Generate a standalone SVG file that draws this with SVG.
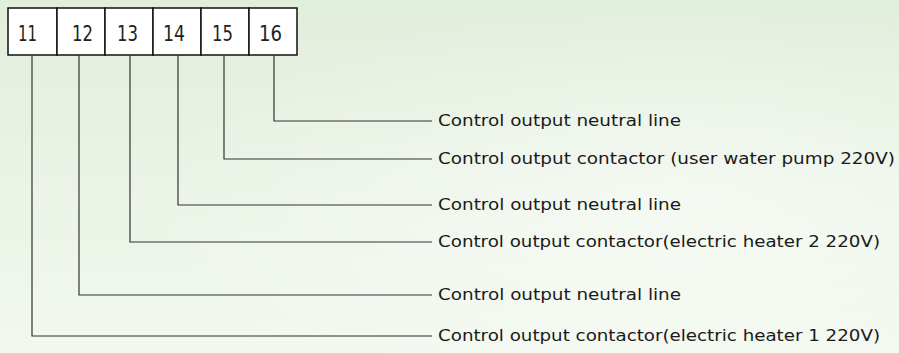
<svg xmlns="http://www.w3.org/2000/svg" width="899" height="353" viewBox="0 0 899 353">
<defs>
<linearGradient id="bg" x1="0" y1="0" x2="0" y2="1">
<stop offset="0" stop-color="#e2eedc"/>
<stop offset="1" stop-color="#f2f8ef"/>
</linearGradient>
<radialGradient id="glow" cx="0.75" cy="0.6" r="0.6">
<stop offset="0" stop-color="#ffffff" stop-opacity="0.5"/>
<stop offset="1" stop-color="#ffffff" stop-opacity="0"/>
</radialGradient>
<style>
.cell{fill:#ffffff;stroke:#111111;stroke-width:1.5}
.num{font-family:"DejaVu Sans","Liberation Sans",sans-serif;font-size:21px;fill:#222222}
.wire{fill:none;stroke:#333333;stroke-width:1.2}
.lbl{font-family:"DejaVu Sans","Liberation Sans",sans-serif;font-size:16px;fill:#1a1a1a}
</style>
</defs>
<rect width="899" height="353" fill="url(#bg)"/>
<rect width="899" height="353" fill="url(#glow)"/>
<g id="terminal-block">
<g id="t11"><rect class="cell" x="8" y="8" width="49" height="47"/><text class="num" x="18" y="40.5" textLength="19" lengthAdjust="spacingAndGlyphs">11</text></g>
<g id="t12"><rect class="cell" x="57" y="8" width="48" height="47"/><text class="num" x="72" y="40.5" textLength="21" lengthAdjust="spacingAndGlyphs">12</text></g>
<g id="t13"><rect class="cell" x="105" y="8" width="48" height="47"/><text class="num" x="117" y="40.5" textLength="21" lengthAdjust="spacingAndGlyphs">13</text></g>
<g id="t14"><rect class="cell" x="153" y="8" width="48" height="47"/><text class="num" x="163" y="40.5" textLength="22" lengthAdjust="spacingAndGlyphs">14</text></g>
<g id="t15"><rect class="cell" x="201" y="8" width="48" height="47"/><text class="num" x="212" y="40.5" textLength="21" lengthAdjust="spacingAndGlyphs">15</text></g>
<g id="t16"><rect class="cell" x="249" y="8" width="48" height="47"/><text class="num" x="259" y="40.5" textLength="23" lengthAdjust="spacingAndGlyphs">16</text></g>
</g>
<g id="connectors">
<polyline class="wire" points="274,55 274,121 432,121"/>
<polyline class="wire" points="224,55 224,159 432,159"/>
<polyline class="wire" points="178,55 178,205 432,205"/>
<polyline class="wire" points="130,55 130,242 432,242"/>
<polyline class="wire" points="79,55 79,295 432,295"/>
<polyline class="wire" points="32,55 32,336 432,336"/>
</g>
<g id="labels">
<text id="l16" class="lbl" x="438" y="126" textLength="243" lengthAdjust="spacingAndGlyphs">Control output neutral line</text>
<text id="l15" class="lbl" x="438" y="164" textLength="457" lengthAdjust="spacingAndGlyphs">Control output contactor (user water pump 220V)</text>
<text id="l14" class="lbl" x="438" y="210" textLength="243" lengthAdjust="spacingAndGlyphs">Control output neutral line</text>
<text id="l13" class="lbl" x="438" y="247" textLength="442" lengthAdjust="spacingAndGlyphs">Control output contactor(electric heater 2 220V)</text>
<text id="l12" class="lbl" x="438" y="300" textLength="243" lengthAdjust="spacingAndGlyphs">Control output neutral line</text>
<text id="l11" class="lbl" x="438" y="341" textLength="442" lengthAdjust="spacingAndGlyphs">Control output contactor(electric heater 1 220V)</text>
</g>
</svg>
